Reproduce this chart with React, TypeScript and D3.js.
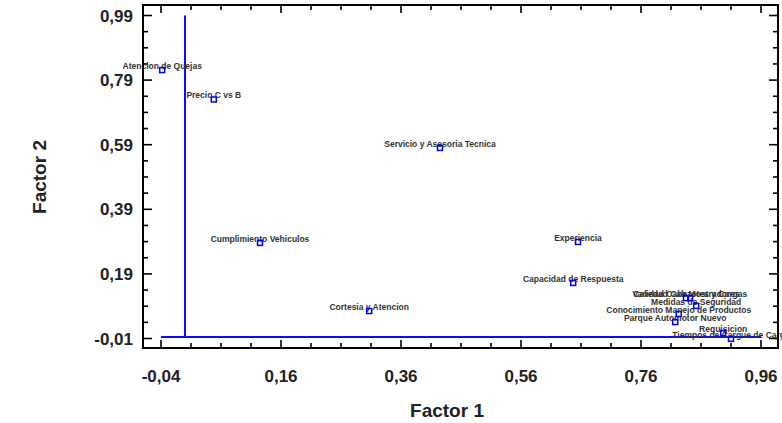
import React, { useEffect, useRef } from 'react';
import * as d3 from 'd3';

// factor loadings
const labels = [
  'Atencion de Quejas',
  'Precio C vs B',
  'Servicio y Asesoria Tecnica',
  'Cumplimiento Vehiculos',
  'Experiencia',
  'Capacidad de Respuesta',
  'Cortesia y Atencion',
  'Variedad Cab Mostradores',
  'Calidad Cabezotes y Cargas',
  'Medidas de Seguridad',
  'Conocimiento Manejo de Productos',
  'Parque Automotor Nuevo',
  'Requisicion',
  'Tiempos de Cargue de Carga',
];
const factor1 = [-0.038, 0.048, 0.425, 0.125, 0.655, 0.647, 0.307, 0.835, 0.842, 0.852, 0.823, 0.817, 0.897, 0.91];
const factor2 = [0.821, 0.73, 0.58, 0.286, 0.289, 0.162, 0.075, 0.115, 0.115, 0.091, 0.066, 0.041, 0.007, -0.011];

const xTicks = [-0.04, 0.16, 0.36, 0.56, 0.76, 0.96];
const yTicks = [-0.01, 0.19, 0.39, 0.59, 0.79, 0.99];

const fmt = (v: number) => v.toFixed(2).replace('.', ',');

export default function App() {
  const svgRef = useRef<SVGSVGElement>(null);

  useEffect(() => {
    const svg = d3.select(svgRef.current);
    svg.selectAll('*').remove();

    const W = 782, H = 423;
    const left = 143, right = 778, top = 5, bottom = 348;

    // -0.04 sits at 161px, 0.96 at 761px; 0.99 at 15.5px, -0.01 at 338.5px
    const x = d3.scaleLinear().domain([-0.04, 0.96]).range([161, 761]);
    const y = d3.scaleLinear().domain([-0.01, 0.99]).range([338.5, 15.5]);

    svg.attr('width', W).attr('height', H);
    svg.append('rect').attr('width', W).attr('height', H).attr('fill', '#fff');

    const font = 'Arial, "Liberation Sans", sans-serif';

    // minor ticks every 0.05, majors every 0.2
    const xMinor = d3.range(-0.04, 0.99, 0.05);
    const yMinor = d3.range(-0.01, 1.0, 0.05);
    const isMajor = (v: number, arr: number[]) => arr.some(t => Math.abs(t - v) < 1e-6);

    const ticks = svg.append('g').attr('stroke', '#000').attr('stroke-width', 1.6);
    xMinor.forEach(v => {
      const len = isMajor(v, xTicks) ? 8 : 5;
      ticks.append('line').attr('x1', x(v)).attr('x2', x(v)).attr('y1', bottom).attr('y2', bottom - len);
      ticks.append('line').attr('x1', x(v)).attr('x2', x(v)).attr('y1', top).attr('y2', top + len);
    });
    yMinor.forEach(v => {
      const len = isMajor(v, yTicks) ? 9 : 5;
      ticks.append('line').attr('y1', y(v)).attr('y2', y(v)).attr('x1', left).attr('x2', left + len);
      ticks.append('line').attr('y1', y(v)).attr('y2', y(v)).attr('x1', right).attr('x2', right - len);
    });

    // reference lines at the origin
    const ref = svg.append('g').attr('stroke', '#0a0aff').attr('stroke-width', 2);
    ref.append('line').attr('x1', x(0)).attr('x2', x(0)).attr('y1', y(0.99)).attr('y2', y(-0.005));
    ref.append('line').attr('x1', x(-0.04)).attr('x2', x(0.96)).attr('y1', y(-0.005)).attr('y2', y(-0.005));

    const pts = svg.append('g');
    labels.forEach((lab, i) => {
      pts.append('text')
        .attr('x', x(factor1[i]))
        .attr('y', y(factor2[i]) - 1)
        .attr('text-anchor', 'middle')
        .attr('font-family', font)
        .attr('font-weight', 'bold')
        .attr('font-size', 8.5)
        .attr('fill', '#333')
        .text(lab);
    });
    labels.forEach((_, i) => {
      pts.append('rect')
        .attr('x', x(factor1[i]) - 2.5)
        .attr('y', y(factor2[i]) - 2.5)
        .attr('width', 5)
        .attr('height', 5)
        .attr('fill', 'none')
        .attr('stroke', '#0000ff')
        .attr('stroke-width', 1.5);
    });

    svg.append('rect')
      .attr('x', left).attr('y', top)
      .attr('width', right - left).attr('height', bottom - top)
      .attr('fill', 'none').attr('stroke', '#000').attr('stroke-width', 2);

    svg.append('g').selectAll('text').data(xTicks).join('text')
      .attr('x', d => x(d)).attr('y', 382)
      .attr('text-anchor', 'middle')
      .attr('font-family', font).attr('font-weight', 'bold').attr('font-size', 17)
      .attr('fill', '#222')
      .text(d => fmt(d));

    svg.append('g').selectAll('text').data(yTicks).join('text')
      .attr('x', 133).attr('y', d => y(d) + 6)
      .attr('text-anchor', 'end')
      .attr('font-family', font).attr('font-weight', 'bold').attr('font-size', 17)
      .attr('fill', '#222')
      .text(d => fmt(d));

    svg.append('text')
      .attr('x', 447).attr('y', 417)
      .attr('text-anchor', 'middle')
      .attr('font-family', font).attr('font-weight', 'bold').attr('font-size', 19)
      .attr('fill', '#222')
      .text('Factor 1');

    svg.append('text')
      .attr('transform', 'translate(46,177) rotate(-90)')
      .attr('text-anchor', 'middle')
      .attr('font-family', font).attr('font-weight', 'bold').attr('font-size', 19)
      .attr('fill', '#222')
      .text('Factor 2');
  }, []);

  return <svg ref={svgRef} style={{ position: 'absolute', left: 0, top: 0, display: 'block' }} />;
}
